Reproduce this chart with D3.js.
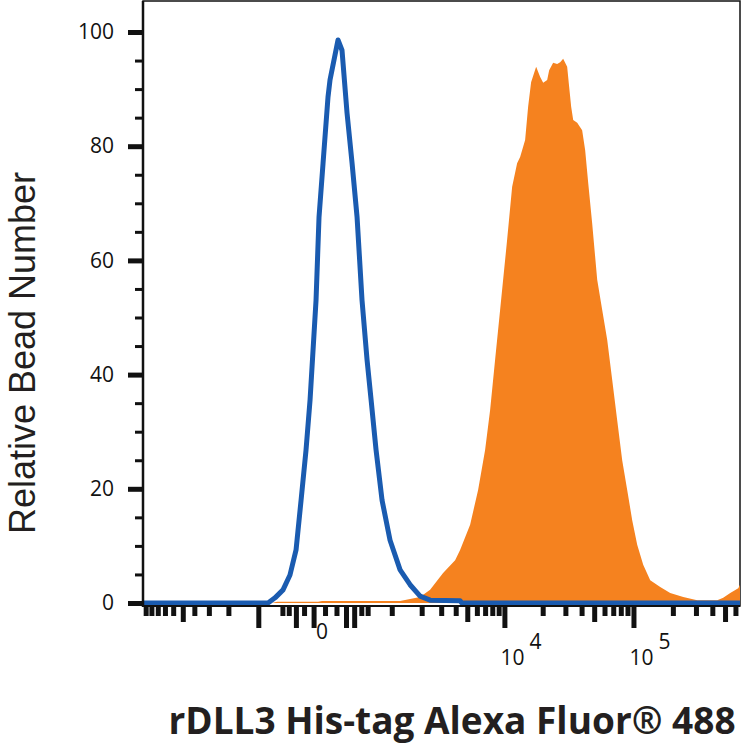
<!DOCTYPE html>
<html>
<head>
<meta charset="utf-8">
<script src="https://cdn.jsdelivr.net/npm/d3@7"></script>
<style>
  body { margin: 0; background: #fff; }
  svg { display: block; }
  .tick text { font-family: "Open Sans", sans-serif; fill: #111; }
</style>
</head>
<body>
<div id="chart"></div>
<script>
// Isotype control (blue outline) - fluorescence value / relative count
const blueX = [-10500, -773, -632, -490, -382, -298, -235, -178, -135, -77, -50, -16, 24, 41, 115,
  156, 212, 273, 339, 411, 490, 559, 651, 773, 957, 1228, 1549, 1933, 2390, 4356, 4500, 650000];
const blueY = [0, 0, 0.9, 2.3, 4.9, 9.3, 18, 26.8, 35.6, 53, 67.6, 77, 88.6, 91.6, 98.6,
  96.8, 85.8, 77, 67.6, 53, 42.6, 35.6, 26.8, 18, 11, 5.8, 3.2, 1.2, 0.5, 0.4, 0, 0];

// rDLL3 His-tag stained beads (orange fill)
const orangeX = [-690, -594, -59, -23, 1228, 1549, 1933, 2390, 3116, 3954, 4356, 5279, 6140, 7000,
  7686, 8428, 9243, 9945, 10510, 11520, 12610, 13320, 14580, 15390, 16240, 17780, 19120, 20180,
  21670, 22460, 24120, 25900, 27340, 28830, 30960, 32070, 33240, 34470, 36990, 40400, 42620,
  44960, 48240, 52740, 57620, 62920, 68720, 75060, 81980, 89550, 97790, 106800, 118700, 134300,
  160100, 190800, 239900, 306600, 435900, 484200, 547700, 630400, 650000];
const orangeY = [0, 0.2, 0.2, 0.35, 0.35, 0.7, 1.05, 2.3, 5.25, 7.5, 9.3, 13.7, 19.8, 26.8,
  33.8, 42.6, 51.3, 58.3, 63.6, 72.9, 77, 78.1, 81.1, 86.9, 91.2, 93.9, 92.1, 91.1,
  91.6, 93.3, 94.6, 94.4, 94.7, 95.3, 93.9, 90.4, 86.9, 84.6, 84.1, 82.8, 79.3,
  73.6, 66.5, 56.6, 51.3, 46.1, 39.1, 32.0, 25.0, 19.8, 14.5, 10.2, 6.7, 4.0,
  2.8, 1.75, 1.05, 0.5, 0.5, 0.9, 1.75, 2.6, 3.2];

// axis ticks
const yMajorTicks = [0, 20, 40, 60, 80, 100];
const yMinorTicks = [5, 10, 15, 25, 30, 35, 45, 50, 55, 65, 70, 75, 85, 90, 95];
const xLongTicks = [-1000, -300, -100, 200, 300, 10000, 100000];
const xMidTicks = [-5000, 5000, 50000, 500000];
const xShortTicks = [-10000, -9000, -8000, -7000, -6000, -4000, -3000, -2000, -500, -400, -200,
  0, 100, 400, 500, 1000, 2000, 3000, 4000, 6000, 7000, 8000, 9000,
  20000, 30000, 40000, 60000, 70000, 80000, 90000, 200000, 300000, 400000, 600000];
const xLabelValues = [0, 10000, 100000];
const xLabelBase = ["0", "10", "10"];
const xLabelExp = ["", "4", "5"];

const W = 742, H = 746;
const plotL = 143, plotR = 740, plotT = 1, plotB = 606;

const svg = d3.select("#chart").append("svg")
  .attr("width", W)
  .attr("height", H);

const x = d3.scaleSymlog()
  .constant(450)
  .domain([-10500, 650000])
  .range([plotL, plotR]);

const y = d3.scaleLinear()
  .domain([0, 100])
  .range([603, 32]);

// frame
svg.append("rect")
  .attr("x", plotL).attr("y", plotT)
  .attr("width", plotR - plotL).attr("height", plotB - plotT)
  .attr("fill", "none")
  .attr("stroke", "#111")
  .attr("stroke-width", 1.5);

// orange filled histogram
const area = d3.area()
  .x(d => x(d[0]))
  .y0(y(0))
  .y1(d => y(d[1]));

svg.append("path")
  .datum(d3.zip(orangeX, orangeY))
  .attr("fill", "#f5821f")
  .attr("d", area);

// blue isotype outline
const line = d3.line()
  .x(d => x(d[0]))
  .y(d => y(d[1]));

svg.append("path")
  .datum(d3.zip(blueX, blueY))
  .attr("fill", "none")
  .attr("stroke", "#1a5bb0")
  .attr("stroke-width", 5)
  .attr("stroke-linejoin", "round")
  .attr("d", line);

// y axis
const yMajor = svg.append("g")
  .attr("transform", `translate(${plotL},0)`)
  .call(d3.axisLeft(y).tickValues(yMajorTicks).tickSize(15).tickPadding(14));
yMajor.selectAll(".tick line").attr("stroke", "#111").attr("stroke-width", 5);
yMajor.selectAll(".tick text").attr("font-size", 21);
yMajor.select(".domain").remove();

const yMinor = svg.append("g")
  .attr("transform", `translate(${plotL},0)`)
  .call(d3.axisLeft(y).tickValues(yMinorTicks).tickSize(8).tickFormat(""));
yMinor.selectAll(".tick line").attr("stroke", "#111").attr("stroke-width", 3);
yMinor.select(".domain").remove();

// x axis ticks (three lengths)
function xTicks(vals, len) {
  const g = svg.append("g")
    .attr("transform", `translate(0,${plotB})`)
    .call(d3.axisBottom(x).tickValues(vals).tickSize(len).tickFormat(""));
  g.selectAll(".tick line").attr("stroke", "#111").attr("stroke-width", 5);
  g.select(".domain").remove();
}
xTicks(xShortTicks, 10);
xTicks(xMidTicks, 16);
xTicks(xLongTicks, 22);

// axis lines on top
svg.append("line")
  .attr("x1", plotL).attr("x2", plotL).attr("y1", plotT).attr("y2", plotB + 1)
  .attr("stroke", "#111").attr("stroke-width", 2.5);
svg.append("line")
  .attr("x1", plotL).attr("x2", plotR).attr("y1", plotB).attr("y2", plotB)
  .attr("stroke", "#111").attr("stroke-width", 2);

// x tick labels (powers of ten)
const xl = svg.append("g")
  .selectAll("text")
  .data(xLabelValues)
  .join("text")
    .attr("x", d => x(d))
    .attr("y", (d, i) => i === 0 ? 639 : 665)
    .attr("text-anchor", d => d === 0 ? "middle" : "start")
    .attr("dx", d => d === 0 ? -3 : -4)
    .style("font-family", "'Open Sans', sans-serif")
    .style("font-size", "21px")
    .attr("fill", "#111");
xl.append("tspan").text((d, i) => xLabelBase[i]);
xl.append("tspan")
  .attr("dx", 5)
  .attr("dy", -16)
  .text((d, i) => xLabelExp[i]);

// axis titles
svg.append("text")
  .attr("x", 452)
  .attr("y", 734)
  .attr("text-anchor", "middle")
  .style("font-family", "'Open Sans', sans-serif")
  .style("font-weight", "bold")
  .style("font-size", "37px")
  .attr("fill", "#231f20")
  .text("rDLL3 His-tag Alexa Fluor® 488");

svg.append("text")
  .attr("transform", "translate(35,353) rotate(-90)")
  .attr("text-anchor", "middle")
  .style("font-family", "'Liberation Sans', Arial, sans-serif")
  .style("font-size", "36px")
  .attr("fill", "#231f20")
  .text("Relative Bead Number");
</script>
</body>
</html>
